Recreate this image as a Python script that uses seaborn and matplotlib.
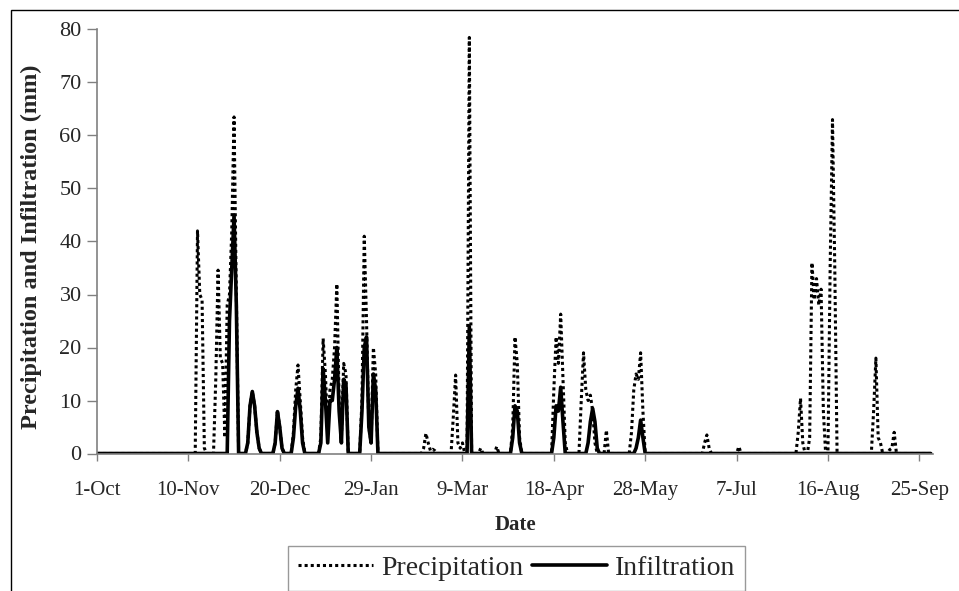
import numpy as np
import pandas as pd
import matplotlib
matplotlib.use("Agg")
import matplotlib.pyplot as plt
from matplotlib.patches import Rectangle
import seaborn as sns

# Water year, daily values (day 0 = 1-Oct)
start_date = "2003-10-01"
n_days = 366

# Rainy days only, everything else is 0 mm
precip_days = [44, 45, 46, 47, 52, 53, 54, 55, 56, 57, 58, 59, 60, 61,
               66, 67, 68, 69, 70, 71, 78, 79, 80, 81, 86, 87, 88, 89, 90,
               98, 99, 100, 101, 102, 103, 104, 105, 106, 107, 108, 109,
               116, 117, 118, 119, 120, 121, 122,
               143, 144, 145, 146, 147, 148, 156, 157, 158, 159, 160, 163,
               168, 175, 182, 183, 184, 185,
               200, 201, 202, 203, 204, 205,
               212, 213, 214, 215, 216, 217, 218, 223,
               234, 235, 236, 237, 238, 239,
               266, 267, 268, 281, 307, 308, 309,
               312, 313, 314, 315, 316, 317, 318, 321, 322, 323,
               340, 341, 342, 343, 347, 348, 349]
precip_mm = [42, 30, 29, 1, 14, 34.6, 18, 17, 3, 28, 30, 42, 63.5, 30,
             2, 9, 11.7, 9, 4, 1, 2, 7.9, 5, 1, 4, 12, 16.7, 10, 3,
             3, 21.7, 15, 4, 12, 14, 20, 32, 10, 3, 17, 15,
             10, 41, 25, 5, 2, 20, 15,
             1, 3.8, 2, 0.5, 0.8, 0.5, 7, 14.8, 2, 1, 2, 78.5,
             1, 1.3, 5, 22, 17, 3,
             12, 22, 17, 26.3, 14, 2,
             10, 19, 12, 10, 11, 8, 2, 4.4,
             4, 12, 15, 14, 19, 8,
             2, 3.5, 1, 1.3, 4, 10.4, 2,
             3, 36, 29, 33, 28, 31, 8, 36, 63, 35,
             8, 18, 3, 2, 0.7, 1, 4]

infil_days = [58, 59, 60, 61, 66, 67, 68, 69, 70, 71, 78, 79, 80, 81,
              86, 87, 88, 89, 90,
              98, 99, 100, 101, 102, 103, 104, 105, 106, 107, 108, 109,
              116, 117, 118, 119, 120, 121, 122, 163,
              182, 183, 184, 185, 200, 201, 202, 203, 204,
              215, 216, 217, 218, 219, 236, 237, 238, 239]
infil_mm = [25, 35, 45, 28, 2, 9, 11.7, 9, 4, 1, 2, 7.9, 5, 1,
            3, 9, 12.3, 8, 2,
            2, 16, 10, 2, 10, 10, 14, 20, 8, 2, 14, 13,
            8, 20, 22, 5, 2, 15, 12, 24,
            3, 9, 8, 2, 3, 9, 8, 12.5, 6,
            2, 6, 8.5, 6, 1, 1, 3, 6.3, 3]

tick_labels = ["1-Oct", "10-Nov", "20-Dec", "29-Jan", "9-Mar",
               "18-Apr", "28-May", "7-Jul", "16-Aug", "25-Sep"]

dates = pd.date_range(start_date, periods=n_days, freq="D")
precip = np.zeros(n_days)
precip[precip_days] = precip_mm
infil = np.zeros(n_days)
infil[infil_days] = infil_mm
df = pd.DataFrame({"Date": dates, "Precipitation": precip, "Infiltration": infil})

sns.set_style("white")
plt.rcParams["font.family"] = ["Liberation Serif", "DejaVu Serif"]

fig = plt.figure(figsize=(9.59, 5.91), dpi=100)
ax = fig.add_axes([97 / 959, 1 - 453.5 / 591, 836 / 959, 424 / 591])

sns.lineplot(data=df, x="Date", y="Precipitation", ax=ax, color="black",
             linestyle=(0, (1.0, 1.0)), linewidth=2.2, label="Precipitation")
sns.lineplot(data=df, x="Date", y="Infiltration", ax=ax, color="black",
             linewidth=2.6, label="Infiltration")

ax.set_ylim(0, 80)
ax.set_yticks(range(0, 81, 10))
ax.set_xlim(dates[0], dates[0] + pd.Timedelta(days=366))
ax.set_xticks(dates[::40])
ax.set_xticklabels(tick_labels)

for side in ["top", "right"]:
    ax.spines[side].set_visible(False)
for side in ["left", "bottom"]:
    ax.spines[side].set_color("#808080")
    ax.spines[side].set_linewidth(1.2)

ax.tick_params(axis="y", direction="out", length=7, width=1, color="#808080",
               labelsize=16, pad=4, left=True)
ax.tick_params(axis="x", direction="out", length=5, width=1, color="#808080",
               labelsize=15, pad=15, bottom=True)

ax.set_ylabel("Precipitation and Infiltration (mm)", fontsize=17.5, fontweight="bold")
ax.yaxis.set_label_coords(-0.066, 0.487)
ax.set_xlabel("Date", fontsize=15, fontweight="bold")
ax.xaxis.set_label_coords(0.5, -0.145)

ax.get_legend().remove()
handles, labels = ax.get_legend_handles_labels()
leg = fig.legend(handles, labels, loc="upper center", ncol=2,
                 bbox_to_anchor=(516.5 / 959, 1 - 546 / 591),
                 fontsize=20, frameon=True, fancybox=False,
                 handlelength=2.7, handletextpad=0.3, columnspacing=0.3,
                 borderpad=0.35, borderaxespad=0)
leg.get_frame().set_edgecolor("#808080")
leg.get_frame().set_linewidth(1)

# outer chart-area border (right and bottom fall outside the image)
fig.add_artist(Rectangle((11 / 959, -0.5), 2, 1.5 - 9.5 / 591,
                         transform=fig.transFigure, fill=False,
                         edgecolor="black", linewidth=1))

fig.savefig("out.png", dpi=100)
